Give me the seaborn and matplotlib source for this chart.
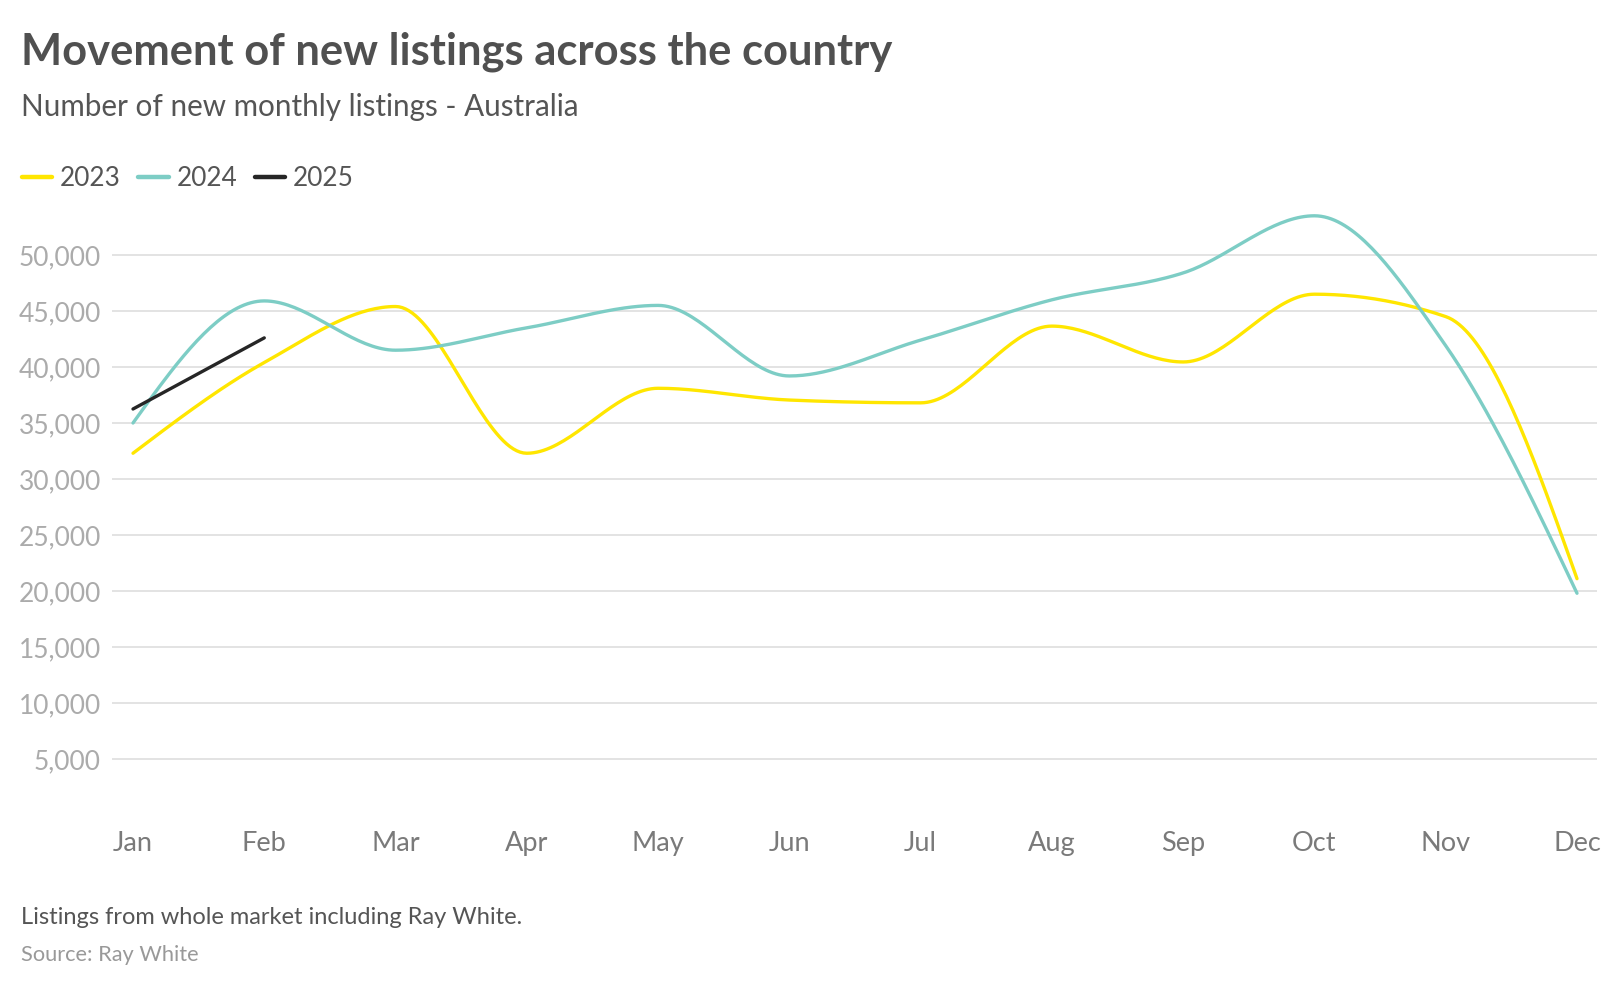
import numpy as np
import pandas as pd
import matplotlib
matplotlib.use("Agg")
import matplotlib.pyplot as plt
from matplotlib.ticker import FuncFormatter
import seaborn as sns

# values
months = ["Jan", "Feb", "Mar", "Apr", "May", "Jun", "Jul", "Aug", "Sep", "Oct", "Nov", "Dec"]
listings_2023 = [32300, 40400, 45400, 32300, 38100, 37050, 36800, 43650, 40450, 46500, 44500, 21100]
listings_2024 = [35000, 45900, 41500, 43500, 45500, 39200, 42400, 46000, 48400, 53500, 41900, 19800]
listings_2025 = [36250, 42600]
years = ["2023", "2024", "2025"]
colors = {"2023": "#FFE600", "2024": "#7DCDC5", "2025": "#262626"}
y_ticks = [5000, 10000, 15000, 20000, 25000, 30000, 35000, 40000, 45000, 50000]


def monotone_x(y, steps=40):
    # same curve as d3.curveMonotoneX, only for drawing the line
    y = np.asarray(y, dtype=float)
    n = len(y)
    x = np.arange(n, dtype=float)
    if n < 3:
        return x, y
    s = np.diff(y)
    t = np.zeros(n)
    for i in range(1, n - 1):
        s0, s1 = s[i - 1], s[i]
        p = (s0 + s1) / 2
        t[i] = (np.sign(s0) + np.sign(s1)) * min(abs(s0), abs(s1), 0.5 * abs(p))
    t[0] = (3 * s[0] - t[1]) / 2
    t[-1] = (3 * s[-1] - t[-2]) / 2
    xs, ys = [], []
    u = np.linspace(0, 1, steps)
    for i in range(n - 1):
        h00 = 2 * u**3 - 3 * u**2 + 1
        h10 = u**3 - 2 * u**2 + u
        h01 = -2 * u**3 + 3 * u**2
        h11 = u**3 - u**2
        seg = h00 * y[i] + h10 * t[i] + h01 * y[i + 1] + h11 * t[i + 1]
        xs.append(x[i] + u)
        ys.append(seg)
    return np.concatenate(xs), np.concatenate(ys)


frames = []
for year, vals in zip(years, [listings_2023, listings_2024, listings_2025]):
    cx, cy = monotone_x(vals)
    frames.append(pd.DataFrame({"month": cx, "listings": cy, "year": year}))
df = pd.concat(frames, ignore_index=True)

sns.set_theme(style="white")
plt.rcParams["font.family"] = ["Lato", "DejaVu Sans"]

fig = plt.figure(figsize=(16.2, 9.86), dpi=100)
ax = fig.add_axes([112 / 1620, 1 - 815 / 986, (1597 - 112) / 1620, (815 - 199) / 986])

sns.lineplot(data=df, x="month", y="listings", hue="year", palette=colors,
             hue_order=years, sort=False, estimator=None, linewidth=2.4,
             ax=ax, legend=False)
for line in ax.get_lines():
    line.set_solid_capstyle("round")

ax.set_xlim(-21 * 11 / 1444, 11 + 20 * 11 / 1444)
ax.set_ylim(0, 55000)
ax.set_yticks(y_ticks)
ax.yaxis.set_major_formatter(FuncFormatter(lambda v, p: f"{int(v):,}"))
ax.set_xticks(range(len(months)))
ax.set_xticklabels(months)
ax.grid(axis="y", color="#e3e3e3", linewidth=1.4)
ax.set_axisbelow(True)
for sp in ax.spines.values():
    sp.set_visible(False)
ax.tick_params(axis="y", length=0, pad=8, labelsize=19.0, labelcolor="#ababab")
ax.tick_params(axis="x", length=0, pad=11.5, labelsize=19.5, labelcolor="#7a7a7a")
ax.set_xlabel("")
ax.set_ylabel("")

fig.text(21 / 1620, 1 - 65 / 986, "Movement of new listings across the country",
         fontsize=31.3, fontweight="bold", color="#505050", va="baseline")
fig.text(21 / 1620, 1 - 116 / 986, "Number of new monthly listings - Australia",
         fontsize=21.3, color="#555555", va="baseline")

handles = [plt.Line2D([], [], color=colors[y], linewidth=3.2, solid_capstyle="round") for y in years]
fig.legend(handles, years, loc="center left", bbox_to_anchor=(22 / 1620, 1 - 179 / 986),
           ncol=3, frameon=False, fontsize=18.8, labelcolor="#555555",
           handlelength=1.15, handletextpad=0.3, columnspacing=0.68, borderaxespad=0,
           borderpad=0)

fig.text(21 / 1620, 1 - 924 / 986, "Listings from whole market including Ray White.",
         fontsize=17.0, color="#555555", va="baseline")
fig.text(21 / 1620, 1 - 961 / 986, "Source: Ray White",
         fontsize=15.7, color="#999999", va="baseline")

fig.savefig("out.png", dpi=100, facecolor="white")
